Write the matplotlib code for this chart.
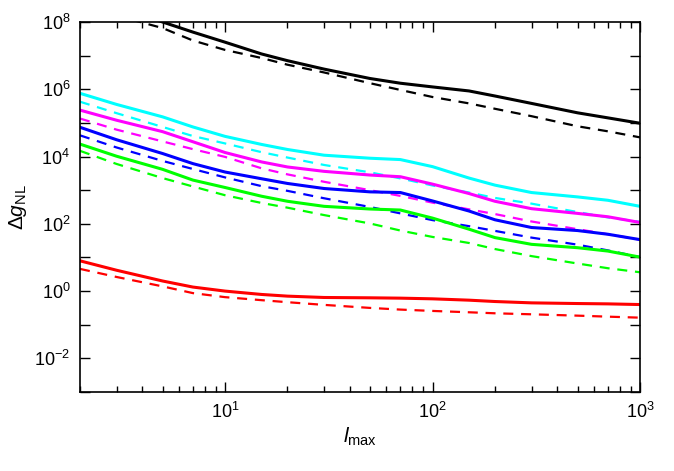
import numpy as np
import matplotlib
matplotlib.use("Agg")
import matplotlib.pyplot as plt
from matplotlib.ticker import LogLocator, FuncFormatter, NullFormatter

plt.rcParams['font.family'] = ['Liberation Sans', 'DejaVu Sans']
plt.rcParams['mathtext.fontset'] = 'custom'
plt.rcParams['mathtext.rm'] = 'Liberation Sans'
plt.rcParams['mathtext.it'] = 'Liberation Sans:italic'
plt.rcParams['axes.unicode_minus'] = False

# --- data (log10 of Delta g_NL) ---
lmax = [2, 3, 5, 7, 10, 15, 20, 30, 50, 70, 100, 150, 200, 300, 500, 700, 1000]

black_solid   = [8.80, 8.44, 8.00, 7.70, 7.40, 7.05, 6.85, 6.60, 6.32, 6.18, 6.07, 5.95, 5.80, 5.58, 5.30, 5.15, 4.99]
black_dashed  = [8.50, 8.19, 7.82, 7.45, 7.17, 6.93, 6.73, 6.50, 6.18, 5.98, 5.77, 5.58, 5.42, 5.20, 4.90, 4.75, 4.57]
cyan_solid    = [5.88, 5.55, 5.18, 4.88, 4.60, 4.36, 4.21, 4.04, 3.95, 3.91, 3.70, 3.36, 3.15, 2.93, 2.80, 2.70, 2.52]
cyan_dashed   = [5.63, 5.29, 4.88, 4.61, 4.39, 4.13, 3.97, 3.75, 3.53, 3.35, 3.14, 2.93, 2.77, 2.60, 2.35, 2.19, 2.06]
magenta_solid = [5.38, 5.08, 4.74, 4.44, 4.12, 3.84, 3.69, 3.56, 3.45, 3.40, 3.18, 2.90, 2.67, 2.45, 2.31, 2.21, 2.04]
magenta_dashed= [5.13, 4.80, 4.45, 4.22, 3.99, 3.65, 3.47, 3.25, 3.00, 2.83, 2.63, 2.43, 2.29, 2.07, 1.84, 1.69, 1.53]
blue_solid    = [4.87, 4.50, 4.09, 3.79, 3.54, 3.34, 3.20, 3.05, 2.95, 2.93, 2.68, 2.38, 2.12, 1.89, 1.80, 1.69, 1.53]
blue_dashed   = [4.63, 4.27, 3.87, 3.63, 3.38, 3.12, 2.98, 2.76, 2.50, 2.31, 2.11, 1.93, 1.79, 1.59, 1.38, 1.21, 1.01]
green_solid   = [4.37, 4.01, 3.62, 3.30, 3.08, 2.82, 2.67, 2.52, 2.44, 2.41, 2.17, 1.84, 1.59, 1.39, 1.29, 1.19, 1.01]
green_dashed  = [4.17, 3.78, 3.36, 3.11, 2.85, 2.62, 2.48, 2.26, 2.01, 1.80, 1.61, 1.43, 1.25, 1.04, 0.82, 0.68, 0.56]
red_solid     = [0.90, 0.62, 0.30, 0.12, 0.00, -0.10, -0.15, -0.19, -0.20, -0.21, -0.23, -0.27, -0.31, -0.35, -0.37, -0.38, -0.40]
red_dashed    = [0.66, 0.42, 0.14, -0.06, -0.18, -0.27, -0.33, -0.41, -0.50, -0.55, -0.59, -0.63, -0.66, -0.69, -0.73, -0.76, -0.79]

series = [
    ('#000000', black_solid, black_dashed),
    ('#00ffff', cyan_solid, cyan_dashed),
    ('#ff00ff', magenta_solid, magenta_dashed),
    ('#0000ff', blue_solid, blue_dashed),
    ('#00ff00', green_solid, green_dashed),
    ('#ff0000', red_solid, red_dashed),
]

fig = plt.figure(figsize=(6.74, 4.71), dpi=100)
ax = fig.add_axes([80/674, 79/471, 560/674, 370/471])

x = np.array(lmax)
for col, sol, das in series:
    ax.plot(x, 10**np.array(sol), '-', color=col, lw=2.2)
    ax.plot(x, 10**np.array(das), '--', color=col, lw=1.6, dashes=(4.5, 3.5))

ax.set_xscale('log')
ax.set_yscale('log')
ax.set_xlim(2, 1000)
ax.set_ylim(1e-3, 1e8)

# y: tick every decade, label every other one
ax.yaxis.set_major_locator(LogLocator(base=10, numticks=30))
ax.yaxis.set_minor_locator(LogLocator(base=10, subs=(), numticks=30))
def ylab(v, pos):
    e = int(round(np.log10(v)))
    return r'$10^{%d}$' % e if e % 2 == 0 else ''
ax.yaxis.set_major_formatter(FuncFormatter(ylab))

ax.xaxis.set_major_locator(LogLocator(base=10, numticks=10))
ax.xaxis.set_minor_locator(LogLocator(base=10, subs=np.arange(2, 10), numticks=10))
ax.xaxis.set_minor_formatter(NullFormatter())
ax.xaxis.set_major_formatter(FuncFormatter(lambda v, p: r'$10^{%d}$' % int(round(np.log10(v)))))

ax.tick_params(which='both', direction='in', top=True, right=True, width=1.0, labelsize=13)
ax.tick_params(which='major', length=7, pad=7)
ax.tick_params(axis='x', which='minor', length=4)
for sp in ax.spines.values():
    sp.set_linewidth(1.2)

ax.set_xlabel(r'$l_{\mathrm{max}}$', fontsize=15, labelpad=3)
ax.set_ylabel(r'$\Delta g_{\mathrm{NL}}$', fontsize=15, labelpad=4)

fig.savefig('out.png', dpi=100)
